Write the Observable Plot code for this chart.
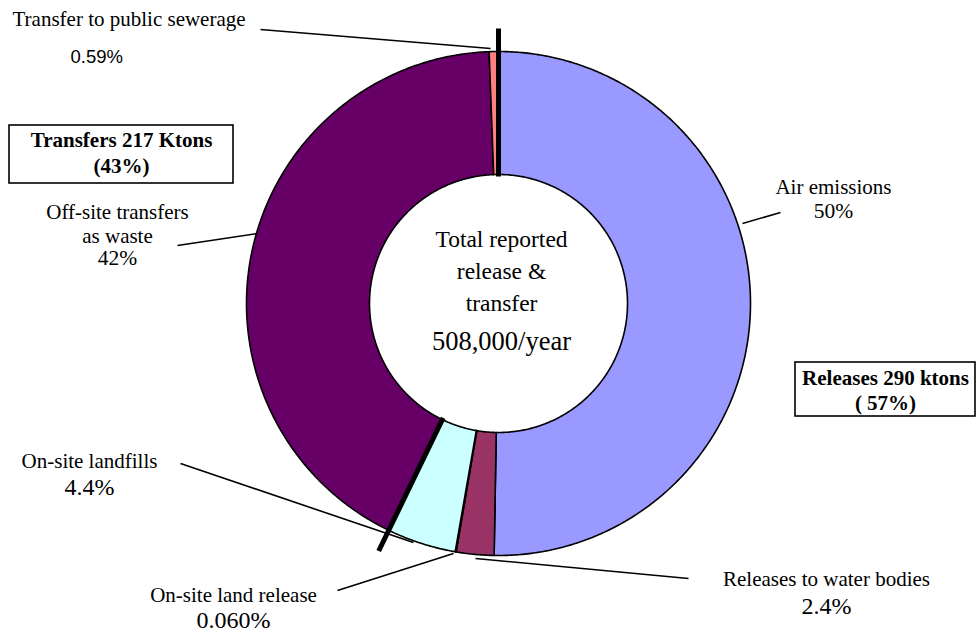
<!DOCTYPE html>
<html>
<head>
<meta charset="utf-8">
<script src="https://cdn.jsdelivr.net/npm/d3@7"></script>
<script src="https://cdn.jsdelivr.net/npm/@observablehq/plot@0.6"></script>
<style>
  html, body { margin: 0; padding: 0; background: #fff; }
  #chart { width: 978px; height: 632px; }
  #chart svg text { font-family: "Liberation Serif", "Times New Roman", serif; }
  #chart svg g.sans text { font-family: "Liberation Sans", Arial, sans-serif; }
</style>
</head>
<body>
<div id="chart"></div>
<script>
// ---- data ----
const categories = ["Air emissions", "Releases to water bodies", "On-site land release", "On-site landfills", "Off-site transfers as waste", "Transfer to public sewerage"];
const shares = [50, 2.4, 0.060, 4.4, 42, 0.59];
const groups = ["Releases", "Releases", "Releases", "Releases", "Transfers", "Transfers"];
const shareLabels = ["50%", "2.4%", "0.060%", "4.4%", "42%", "0.59%"];
const groupNames = ["Transfers 217 Ktons", "Releases 290 ktons"];
const groupShares = ["(43%)", "( 57%)"];
const centerLines = ["Total reported", "release &", "transfer"];
const centerTotal = "508,000/year";

// ---- styles / layout ----
const colors = ["#9999FF", "#993366", "#FFFFCC", "#CCFFFF", "#660066", "#FF8080"];
const W = 978, H = 632;
const cx = 498, cy = 303, R = 252, r0 = 129;

// slice polygons
const pie = d3.pie().sort(null).value(d => d)(shares);
const polys = [];
pie.forEach((p, i) => {
  const a0 = p.startAngle, a1 = p.endAngle;
  const n = Math.max(2, Math.ceil((a1 - a0) * 180 / Math.PI * 2));
  const pts = [];
  for (let k = 0; k <= n; k++) { const a = a0 + (a1 - a0) * k / n; pts.push([a, R]); }
  for (let k = n; k >= 0; k--) { const a = a0 + (a1 - a0) * k / n; pts.push([a, r0]); }
  pts.push([a0, R]);
  pts.forEach(([a, rr], j) => polys.push({name: categories[i], x: cx + rr * Math.sin(a), y: cy - rr * Math.cos(a), j}));
});

// group separators (at group boundaries)
const seps = [];
pie.forEach((p, i) => {
  const prev = groups[(i - 1 + groups.length) % groups.length];
  if (groups[i] !== prev) {
    const a = p.startAngle;
    seps.push({x1: cx + (r0 - 2) * Math.sin(a), y1: cy - (r0 - 2) * Math.cos(a), x2: cx + (R + 23) * Math.sin(a), y2: cy - (R + 23) * Math.cos(a)});
  }
});

// leader lines (layout)
const leaders = [
  {x1: 742, y1: 223, x2: 780, y2: 212},
  {x1: 475, y1: 558, x2: 688, y2: 578},
  {x1: 453, y1: 553, x2: 337, y2: 590},
  {x1: 413, y1: 542, x2: 180, y2: 463},
  {x1: 257, y1: 233, x2: 177, y2: 245},
  {x1: 490, y1: 48, x2: 260, y2: 29}
];

// label text lines (layout)
const serif = '"Liberation Serif", "Times New Roman", serif';
const sans = '"Liberation Sans", Arial, sans-serif';
const texts = [
  {text: categories[0], x: 833, y: 193, size: 21, anchor: "middle", font: serif},
  {text: shareLabels[0], x: 833, y: 217, size: 21.5, anchor: "middle", font: serif},
  {text: categories[1], x: 826, y: 585, size: 21, anchor: "middle", font: serif},
  {text: shareLabels[1], x: 826, y: 613, size: 24, anchor: "middle", font: serif},
  {text: categories[2], x: 233, y: 601, size: 21, anchor: "middle", font: serif},
  {text: shareLabels[2], x: 233, y: 627, size: 24, anchor: "middle", font: serif},
  {text: categories[3], x: 89, y: 467, size: 21, anchor: "middle", font: serif},
  {text: shareLabels[3], x: 89, y: 494, size: 24, anchor: "middle", font: serif},
  {text: "Off-site transfers", x: 117, y: 218, size: 21, anchor: "middle", font: serif},
  {text: "as waste", x: 117, y: 242, size: 21, anchor: "middle", font: serif},
  {text: shareLabels[4], x: 117, y: 264, size: 21.5, anchor: "middle", font: serif},
  {text: categories[5], x: 12, y: 25, size: 21, anchor: "start", font: serif},
  {text: shareLabels[5], x: 70, y: 62, size: 18.5, anchor: "start", font: sans, sans: true},
  {text: centerLines[0], x: 501, y: 246, size: 23.5, anchor: "middle", font: serif},
  {text: centerLines[1], x: 501, y: 278, size: 23.5, anchor: "middle", font: serif},
  {text: centerLines[2], x: 501, y: 310, size: 23.5, anchor: "middle", font: serif},
  {text: centerTotal, x: 501, y: 349, size: 26.5, anchor: "middle", font: serif}
];
const boxes = [
  {x1: 9, y1: 125, x2: 233, y2: 183, cx: 121, l1: 146, l2: 172, t1: groupNames[0], t2: groupShares[0]},
  {x1: 795, y1: 362, x2: 975, y2: 416, cx: 885, l1: 384, l2: 409, t1: groupNames[1], t2: groupShares[1]}
];
const boxTexts = boxes.flatMap(b => [{text: b.t1, x: b.cx, y: b.l1}, {text: b.t2, x: b.cx, y: b.l2}]);

const chart = Plot.plot({
  width: W, height: H, margin: 0,
  x: {domain: [0, W], range: [0, W], axis: null},
  y: {domain: [0, H], range: [0, H], axis: null},
  color: {domain: categories, range: colors},
  style: {background: "white", fontFamily: serif, overflow: "visible"},
  marks: [
    Plot.line(polys, {x: "x", y: "y", z: "name", fill: "name", stroke: "black", strokeWidth: 1.6, strokeLinejoin: "round", curve: "linear"}),
    Plot.link(seps, {x1: "x1", y1: "y1", x2: "x2", y2: "y2", stroke: "black", strokeWidth: 5}),
    Plot.link(leaders, {x1: "x1", y1: "y1", x2: "x2", y2: "y2", stroke: "black", strokeWidth: 1.6}),
    Plot.rect(boxes, {x1: "x1", y1: "y1", x2: "x2", y2: "y2", fill: "white", stroke: "black", strokeWidth: 1.6}),
    Plot.text(boxTexts, {x: "x", y: "y", text: "text", fontSize: 21, fontWeight: "bold", fontFamily: serif, lineAnchor: "bottom", textAnchor: "middle", fill: "black"}),
    ...texts.map(t => Plot.text([t], {x: "x", y: "y", text: "text", fontSize: t.size, fontFamily: t.font, textAnchor: t.anchor, lineAnchor: "bottom", fill: "black", className: t.sans ? "sans" : undefined}))
  ]
});
// make sure the sans label keeps its font even if className is unsupported
d3.select(chart).selectAll("text").filter(function () { return this.textContent === shareLabels[5]; })
  .style("font-family", sans);
document.getElementById("chart").appendChild(chart);
</script>
</body>
</html>
